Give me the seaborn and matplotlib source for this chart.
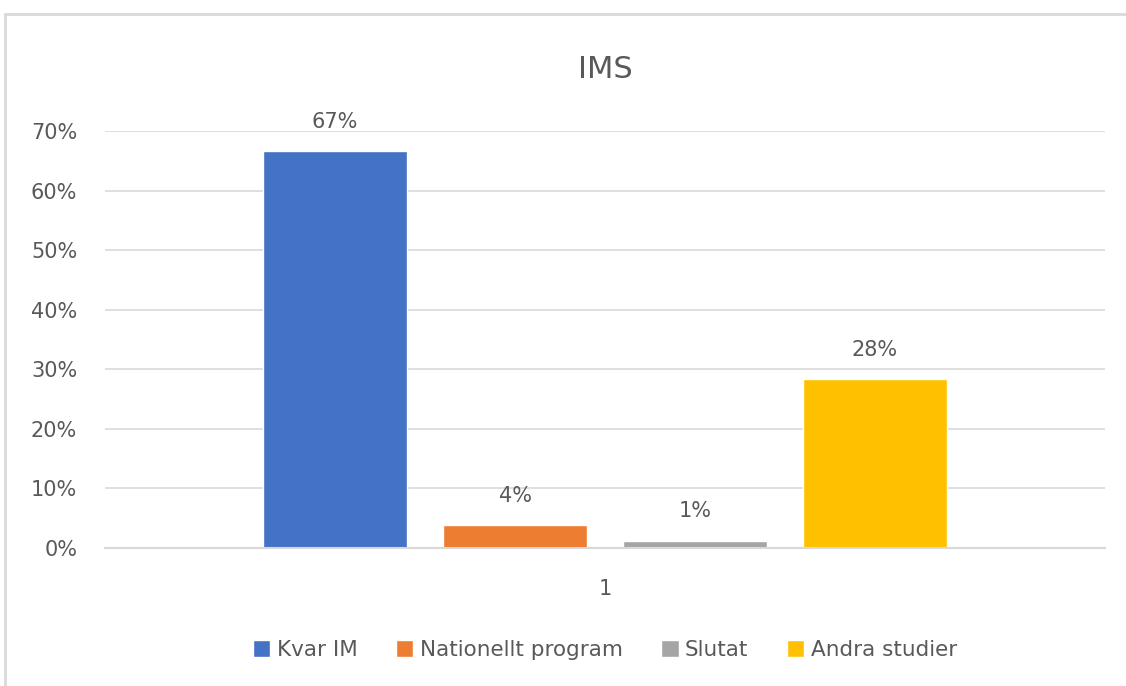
import pandas as pd
import matplotlib.pyplot as plt
import seaborn as sns
from matplotlib.patches import Rectangle
from matplotlib.ticker import PercentFormatter

# data
categories = ["1"]
series = ["Kvar IM", "Nationellt program", "Slutat", "Andra studier"]
values = [0.666, 0.038, 0.012, 0.283]
colors = ["#4472C4", "#ED7D31", "#A5A5A5", "#FFC000"]

df = pd.DataFrame({"group": categories * len(series), "series": series, "value": values})

sns.set_theme(style="white")
plt.rcParams['font.family'] = ['Liberation Sans Narrow', 'DejaVu Sans']
text_col = "#595959"

fig = plt.figure(figsize=(11.26, 6.86), dpi=100)
ax = fig.add_axes([105 / 1126, 138 / 686, 1000 / 1126, 417 / 686])

# light frame around the chart area (Excel style)
fig.patches.append(Rectangle((5 / 1126, -0.01), 1.02, (686 - 14) / 686 + 0.01,
                             transform=fig.transFigure, fill=False,
                             edgecolor="#D9D9D9", linewidth=2))

sns.barplot(data=df, x="group", y="value", hue="series", palette=colors,
            width=0.72, gap=0.2, ax=ax, saturation=1, legend=True)

ax.set_ylim(0, 0.7)
ax.set_xlim(-0.5, 0.5)
ax.yaxis.set_major_formatter(PercentFormatter(1.0, decimals=0))
ax.set_yticks([i / 10 for i in range(8)])
ax.grid(axis="y", color="#D9D9D9", linewidth=1.2)
ax.set_axisbelow(True)
for s in ["top", "right", "left"]:
    ax.spines[s].set_visible(False)
ax.spines["bottom"].set_color("#D9D9D9")
ax.spines["bottom"].set_linewidth(1.5)
ax.tick_params(axis="y", length=0, labelsize=15, labelcolor=text_col, pad=20)
ax.tick_params(axis="x", length=0, labelsize=15, labelcolor=text_col, pad=22)
ax.set_xlabel("")
ax.set_ylabel("")

for cont, v in zip(ax.containers, values):
    ax.bar_label(cont, labels=[f"{v:.0%}"], padding=14, fontsize=15, color=text_col)

fig.text(605 / 1126, 1 - 70 / 686, "IMS", ha="center", va="center", fontsize=22, color=text_col)

leg = ax.legend(loc="center", bbox_to_anchor=(0.5, -0.245), ncol=4, frameon=False,
                fontsize=15.5, handlelength=0.8, handleheight=0.8, handletextpad=0.3,
                columnspacing=1.8)
for t in leg.get_texts():
    t.set_color(text_col)

fig.savefig("out.png", dpi=100)
